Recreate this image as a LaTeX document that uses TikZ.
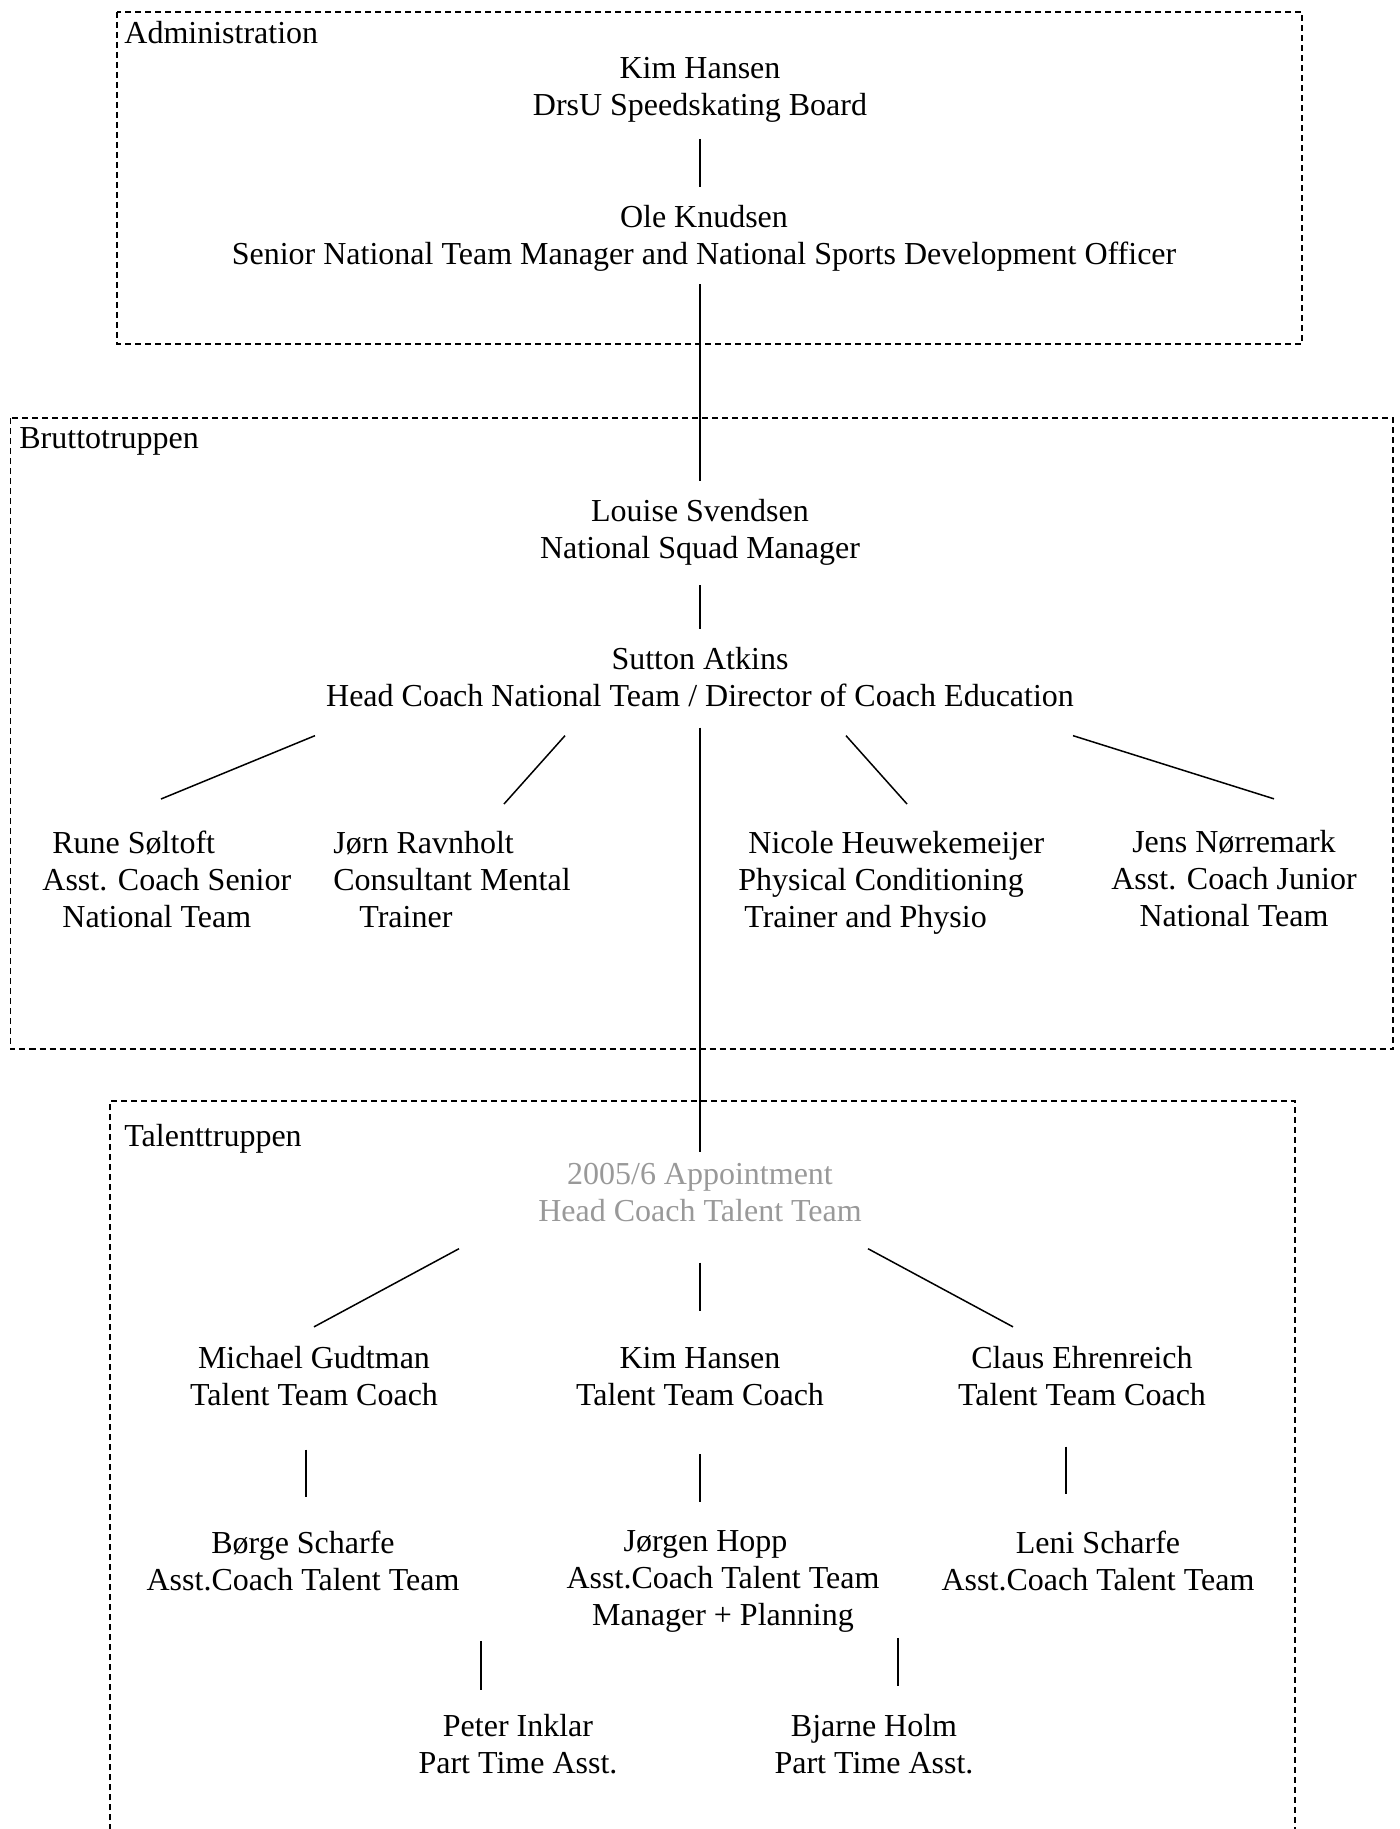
\documentclass[tikz,border=0pt]{standalone}
\usepackage{fontspec}
\setmainfont{Liberation Serif}
\definecolor{pendinggray}{RGB}{153,153,153}

\begin{document}
\begin{tikzpicture}[x=0.5pt, y=-0.5pt, font=\fontsize{16}{18.5}\selectfont,
		person/.style={inner sep=0pt, align=center},
		pending/.style={person, text=pendinggray},
		link/.style={line width=0.75pt},
		group/.style={line width=0.9pt, dash pattern=on 3pt off 2pt},
		grouplabel/.style={inner sep=0pt, anchor=west}]
	\useasboundingbox (0,0) rectangle (1399,1829);
	% the three groups
	\draw[group] (117,12) rectangle (1302,344);
	\draw[group] (10.5,418) rectangle (1393,1049);
	\draw[group] (110,1860) -- (110,1101) -- (1295,1101) -- (1295,1860);
	\node[grouplabel] (admlabel) at (124,33) {Administration};
	\node[grouplabel] (bruttolabel) at (19,441) {Bruttotruppen};
	\node[grouplabel] (talentlabel) at (124,1139) {Talenttruppen};
	% administration
	\node[person] (kimadm) at (700,90) {Kim Hansen\\DrsU Speedskating Board};
	\node[person] (ole) at (704,238) {Ole Knudsen\\Senior National Team Manager and National Sports Development Officer};
	% bruttotruppen
	\node[person] (louise) at (700,532) {Louise Svendsen\\National Squad Manager};
	\node[person] (sutton) at (700,677.5) {Sutton Atkins\\Head Coach National Team / Director of Coach Education};
	\node[person, align=left, anchor=north west] (rune) at (42,830.5) {\hspace{5pt}Rune Søltoft\\Asst. Coach Senior\\\hspace{10pt}National Team};
	\node[person, align=left, anchor=north west] (jorn) at (333,830.5) {Jørn Ravnholt\\Consultant Mental\\\hspace{13pt}Trainer};
	\node[person, align=left, anchor=north west] (nicole) at (738,830.5) {\hspace{5pt}Nicole Heuwekemeijer\\Physical Conditioning\\\hspace{3pt}Trainer and Physio};
	\node[person] (jens) at (1234,879) {Jens Nørremark\\Asst. Coach Junior\\National Team};
	% talenttruppen
	\node[pending] (talenthead) at (700,1193) {2005/6 Appointment\\Head Coach Talent Team};
	\node[person] (michael) at (314,1376.5) {Michael Gudtman\\Talent Team Coach};
	\node[person] (kimtal) at (700,1376.5) {Kim Hansen\\Talent Team Coach};
	\node[person] (claus) at (1082,1376.5) {Claus Ehrenreich\\Talent Team Coach};
	\node[person] (borge) at (303,1560.5) {Børge Scharfe\\Asst.Coach Talent Team};
	\node[person] (jorgen) at (723,1581.5) {Jørgen Hopp\hspace*{17.5pt}\\Asst.Coach Talent Team\\Manager + Planning};
	\node[person] (leni) at (1098,1560.5) {Leni Scharfe\\Asst.Coach Talent Team};
	\node[person] (peter) at (518,1744.5) {Peter Inklar\\Part Time Asst.};
	\node[person] (bjarne) at (874,1744.5) {Bjarne Holm\\Part Time Asst.};
	% connectors
	\draw[link] ([yshift=-8pt]kimadm.south) -- ([xshift=-2pt,yshift=9pt]ole.north);
	\draw[link] ([xshift=-2pt,yshift=-6.5pt]ole.south) -- ([yshift=9pt]louise.north);
	\draw[link] ([yshift=-10pt]louise.south) -- ([yshift=9pt]sutton.north);
	\draw[link] ([yshift=-10pt]sutton.south) -- ([yshift=5.5pt]talenthead.north);
	\draw[link] ([xshift=-192.5pt,yshift=-14pt]sutton.south) -- ([xshift=59.5pt,yshift=15.75pt]rune.north west);
	\draw[link] ([xshift=-67.5pt,yshift=-14pt]sutton.south) -- ([xshift=85.5pt,yshift=13.25pt]jorn.north west);
	\draw[link] ([xshift=73pt,yshift=-14pt]sutton.south) -- ([xshift=84.5pt,yshift=13.25pt]nicole.north west);
	\draw[link] ([xshift=186.5pt,yshift=-14pt]sutton.south) -- ([xshift=20pt,yshift=15.75pt]jens.north);
	\draw[link] ([xshift=-120.5pt,yshift=-13pt]talenthead.south) -- ([yshift=9.75pt]michael.north);
	\draw[link] ([yshift=-20pt]talenthead.south) -- ([yshift=17.75pt]kimtal.north);
	\draw[link] ([xshift=84pt,yshift=-13pt]talenthead.south) -- ([xshift=-34.5pt,yshift=9.75pt]claus.north);
	\draw[link] ([xshift=-4pt,yshift=-21.5pt]michael.south) -- ([xshift=1.5pt,yshift=16.75pt]borge.north);
	\draw[link] ([yshift=-24pt]kimtal.south) -- ([xshift=-11.5pt,yshift=14.25pt]jorgen.north);
	\draw[link] ([xshift=-8pt,yshift=-20pt]claus.south) -- ([xshift=-16pt,yshift=18.25pt]leni.north);
	\draw[link] ([xshift=-121pt,yshift=-4pt]jorgen.south) -- ([xshift=-18.5pt,yshift=12pt]peter.north);
	\draw[link] ([xshift=87.5pt,yshift=-2.5pt]jorgen.south) -- ([xshift=12pt,yshift=14pt]bjarne.north);
\end{tikzpicture}
\end{document}
